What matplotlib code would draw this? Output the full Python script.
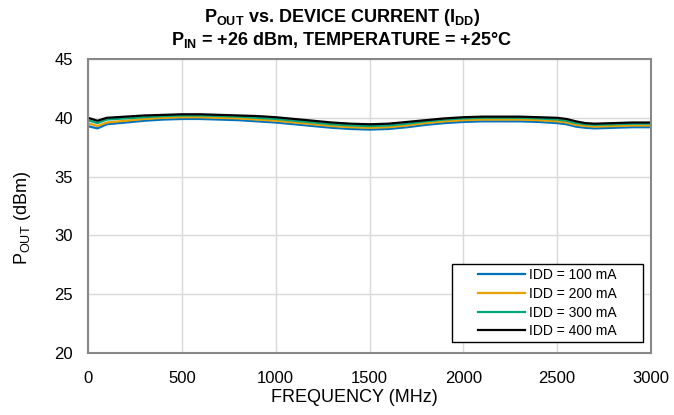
import matplotlib
matplotlib.use('Agg')
import matplotlib.pyplot as plt
from matplotlib.legend_handler import HandlerLine2D
from matplotlib.lines import Line2D

plt.rcParams['font.family'] = ['Liberation Sans', 'DejaVu Sans']
plt.rcParams['mathtext.fontset'] = 'custom'
plt.rcParams['mathtext.rm'] = 'Liberation Sans'
plt.rcParams['mathtext.bf'] = 'Liberation Sans:bold'
plt.rcParams['mathtext.it'] = 'Liberation Sans'

# frequência (MHz)
freq = [10, 50, 100, 200, 300, 400, 500, 600, 700, 800, 900, 1000, 1100, 1200,
        1300, 1400, 1500, 1600, 1700, 1800, 1900, 2000, 2100, 2200, 2300, 2400,
        2500, 2550, 2600, 2650, 2700, 2800, 2900, 3000]

# Pout (dBm) por corrente
idd_100 = [39.25, 39.1, 39.45, 39.6, 39.75, 39.85, 39.9, 39.9, 39.85, 39.8, 39.7, 39.6,
           39.45, 39.3, 39.15, 39.05, 39.0, 39.05, 39.2, 39.4, 39.55, 39.65, 39.7, 39.7,
           39.7, 39.65, 39.55, 39.45, 39.25, 39.15, 39.1, 39.15, 39.2, 39.2]
idd_200 = [39.5, 39.3, 39.6, 39.75, 39.9, 40.0, 40.05, 40.05, 40.0, 39.95, 39.85, 39.75,
           39.6, 39.45, 39.3, 39.2, 39.15, 39.2, 39.35, 39.55, 39.7, 39.8, 39.85, 39.85,
           39.85, 39.8, 39.7, 39.6, 39.4, 39.3, 39.25, 39.3, 39.35, 39.35]
idd_300 = [39.75, 39.55, 39.85, 39.95, 40.05, 40.15, 40.2, 40.2, 40.15, 40.1, 40.0, 39.9,
           39.75, 39.6, 39.45, 39.35, 39.3, 39.35, 39.5, 39.7, 39.85, 39.95, 40.0, 40.0,
           40.0, 39.95, 39.85, 39.75, 39.55, 39.45, 39.4, 39.45, 39.5, 39.5]
idd_400 = [39.95, 39.75, 40.0, 40.1, 40.2, 40.25, 40.3, 40.3, 40.25, 40.2, 40.15, 40.05,
           39.9, 39.75, 39.6, 39.5, 39.45, 39.5, 39.65, 39.8, 39.95, 40.05, 40.1, 40.1,
           40.1, 40.05, 40.0, 39.9, 39.7, 39.55, 39.5, 39.55, 39.6, 39.6]

series = [idd_100, idd_200, idd_300, idd_400]
labels = ['IDD = 100 mA', 'IDD = 200 mA', 'IDD = 300 mA', 'IDD = 400 mA']
colors = ['#0072BD', '#E8A100', '#00A57A', '#000000']

fig = plt.figure(figsize=(6.74, 4.15), dpi=100)
ax = fig.add_axes([0.1306, 0.1494, 0.8353, 0.7084])

for y, lab, c in zip(series, labels, colors):
    ax.plot(freq, y, color=c, lw=1.6, label=lab)

ax.set_xlim(0, 3000)
ax.set_ylim(20, 45)
ax.set_xticks(range(0, 3001, 500))
ax.set_yticks(range(20, 46, 5))
ax.grid(True, color='#d9d9d9', lw=1)
ax.set_axisbelow(True)
ax.tick_params(length=0, labelsize=12)
ax.tick_params(axis='x', pad=13)
ax.tick_params(axis='y', pad=11)
for s in ax.spines.values():
    s.set_color('#888888')
    s.set_linewidth(1.5)

ax.set_xlabel('FREQUENCY (MHz)', fontsize=13, labelpad=2, x=0.473)
ax.set_ylabel(r'P$_{\mathregular{OUT}}$ (dBm)', fontsize=13, labelpad=15, y=0.461)
ax.set_title(r'$\mathbf{P_{OUT}}$ vs. DEVICE CURRENT ($\mathbf{I_{DD}}$)' + '\n' +
             r'$\mathbf{P_{IN}}$ = +26 dBm, TEMPERATURE = +25°C',
             fontsize=13, fontweight='bold', linespacing=1.15, pad=10, x=0.451)

# legenda com recuo à esquerda do traço
leg = ax.legend(loc='lower left', bbox_to_anchor=(0.6465, 0.037, 0.339, 0), mode='expand',
                borderaxespad=0, fontsize=10, fancybox=False, framealpha=1,
                handlelength=5.0, handletextpad=0.3, labelspacing=0.34, borderpad=0.28,
                handler_map={Line2D: HandlerLine2D(xpad=1.6)})
leg.get_frame().set_edgecolor('black')
leg.get_frame().set_linewidth(1)

fig.savefig('out.png', dpi=100)
